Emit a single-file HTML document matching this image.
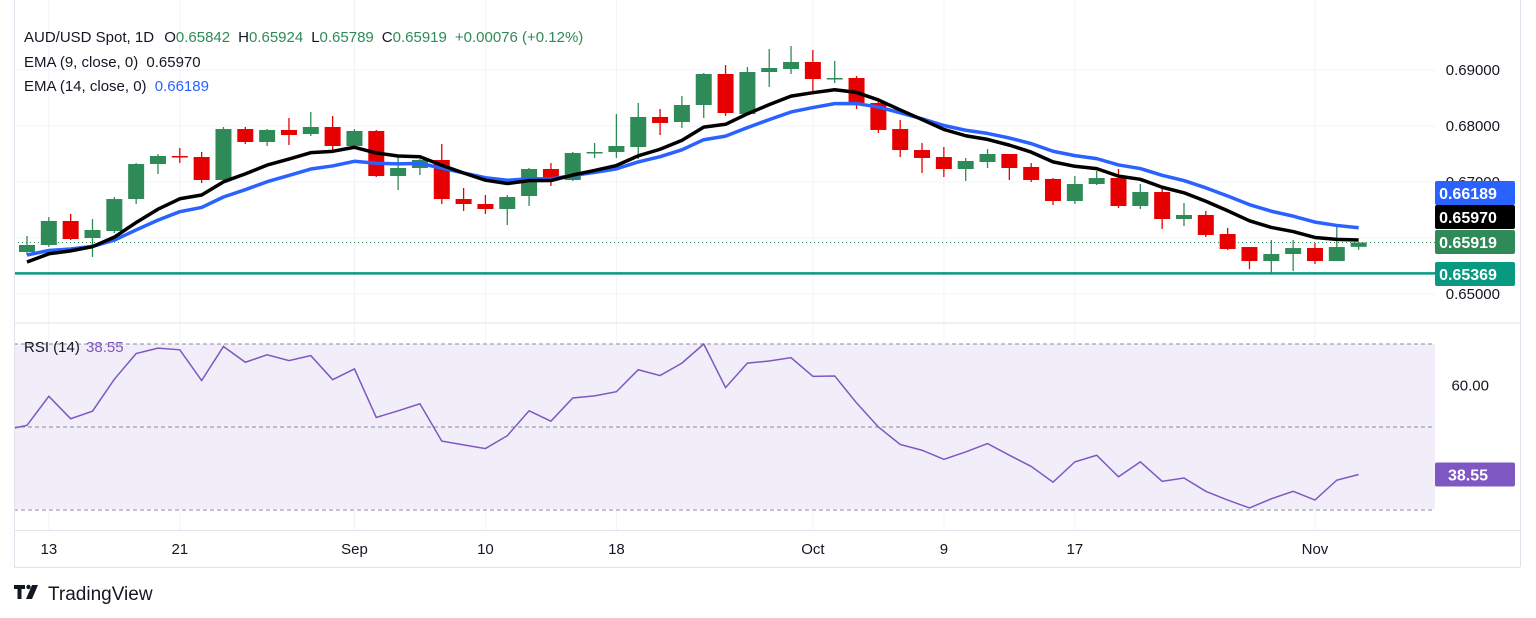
<!DOCTYPE html>
<html><head><meta charset="utf-8"><style>
body{margin:0;background:#fff;font-family:"Liberation Sans",sans-serif}
svg{display:block}
text{font-family:"Liberation Sans",sans-serif}
</style></head><body>
<svg id="chart" width="1536" height="618" viewBox="0 0 1536 618" xmlns="http://www.w3.org/2000/svg">
<defs><clipPath id="pc"><rect x="14" y="0" width="1421" height="322"/></clipPath><clipPath id="rc"><rect x="14" y="324" width="1421" height="206"/></clipPath></defs>
<g id="grid"></g>
<rect id="band" x="14" y="344" width="1421" height="165" fill="#f2eef9"/>
<g id="rsiguides"></g>
<g id="price" clip-path="url(#pc)"></g>
<g id="rsi" clip-path="url(#rc)"></g>
<g id="axes"></g>
<line x1="14" y1="323" x2="1520" y2="323" stroke="#e0e3eb" stroke-width="1"/>
<line x1="14.5" y1="0" x2="14.5" y2="567" stroke="#e0e3eb"/>
<line x1="14" y1="567.5" x2="1520" y2="567.5" stroke="#e0e3eb"/>
<line x1="1520.5" y1="0" x2="1520.5" y2="567" stroke="#e0e3eb"/>
<line x1="14" y1="530.5" x2="1520" y2="530.5" stroke="#e0e3eb"/>
<g font-size="15">
<text x="24" y="42" fill="#131722">AUD/USD Spot, 1D <tspan dx="6">O</tspan><tspan fill="#2e8b57">0.65842</tspan><tspan dx="8">H</tspan><tspan fill="#2e8b57">0.65924</tspan><tspan dx="8">L</tspan><tspan fill="#2e8b57">0.65789</tspan><tspan dx="8">C</tspan><tspan fill="#2e8b57">0.65919</tspan><tspan dx="8" fill="#2e8b57">+0.00076 (+0.12%)</tspan></text>
<text x="24" y="67" fill="#131722">EMA (9, close, 0) <tspan dx="4">0.65970</tspan></text>
<text x="24" y="91" fill="#131722">EMA (14, close, 0) <tspan dx="4" fill="#2962ff">0.66189</tspan></text>
<text x="24" y="352" fill="#131722">RSI (14) <tspan dx="2" fill="#7e57c2">38.55</tspan></text>
</g>
<g>
<path d="M14 585h11v4h-3.5v10h-4v-10h-3.5z" fill="#131722"/><circle cx="28.5" cy="587" r="2.2" fill="#131722"/><path d="M32 585h6l-6 14h-6z" fill="#131722"/>
<text x="48" y="600" font-size="19" fill="#131722">TradingView</text>
</g>
</svg>
<script>
const dates=["13","21","Sep","10","18","Oct","9","17","Nov"];
const dateIdx=[1,7,15,21,27,36,42,48,59];
const priceTicks=[0.69,0.68,0.67,0.66,0.65];
const rsiTicks=[60];
const opens=[.65750,.65875,.66304,.66000,.66125,.66696,.67321,.67464,.67446,.67036,.67946,.67714,.67929,.67857,.67982,.67643,.67911,.67107,.67250,.67393,.66696,.66607,.66518,.66750,.67232,.67036,.67518,.67536,.67625,.68161,.68071,.68375,.68929,.68214,.68964,.69018,.69143,.68839,.68857,.68411,.67946,.67571,.67446,.67232,.67357,.67500,.67268,.67054,.66661,.66964,.67071,.66571,.66821,.66339,.66411,.66071,.65839,.65589,.65714,.65821,.65589,.65842];
const highs=[.66036,.66375,.66429,.66339,.66732,.67339,.67500,.67607,.67536,.67982,.67982,.67946,.68143,.68250,.68179,.67946,.67929,.67482,.67411,.67679,.66893,.66768,.66768,.67250,.67339,.67536,.67696,.68214,.68411,.68304,.68536,.68946,.69089,.69054,.69375,.69429,.69357,.69161,.68893,.68500,.68107,.67696,.67625,.67429,.67589,.67500,.67339,.67071,.67107,.67196,.67232,.66964,.66911,.66625,.66482,.66179,.65839,.65964,.65964,.65911,.66196,.65924];
const lows=[.65696,.65839,.65964,.65661,.66089,.66607,.67143,.67339,.66982,.67036,.67679,.67643,.67661,.67821,.67536,.67589,.67089,.66857,.67125,.66607,.66482,.66429,.66232,.66571,.66929,.67018,.67429,.67429,.67411,.67839,.67964,.68143,.68179,.68196,.68696,.68929,.68589,.68768,.68304,.67875,.67446,.67161,.67089,.67018,.67250,.67036,.67000,.66589,.66607,.66946,.66536,.66518,.66161,.66214,.66018,.65786,.65446,.65375,.65411,.65536,.65589,.65789];
const closes=[.65875,.66304,.65982,.66143,.66696,.67321,.67464,.67446,.67036,.67946,.67714,.67929,.67839,.67982,.67643,.67911,.67107,.67250,.67393,.66696,.66607,.66518,.66732,.67232,.67036,.67518,.67536,.67643,.68161,.68054,.68375,.68929,.68232,.68964,.69036,.69143,.68839,.68857,.68411,.67929,.67571,.67429,.67232,.67375,.67500,.67250,.67036,.66661,.66964,.67071,.66571,.66821,.66339,.66411,.66054,.65804,.65589,.65714,.65821,.65589,.65839,.65919];
const ema9Seed=0.65571, ema14Seed=0.65696;
const ema9Last=0.65970, ema14Last=0.66189;
const rsiPrev=49.3;
const rsiVals=[50.4,57.4,52.0,53.8,61.5,67.7,69.0,68.6,61.2,69.4,65.6,67.4,66.0,67.2,61.4,64.0,52.3,53.9,55.6,46.6,45.7,44.8,47.9,53.9,51.4,57.0,57.5,58.5,63.8,62.4,65.4,70.0,59.5,65.4,65.9,66.7,62.2,62.3,55.8,50.0,45.8,44.4,42.2,44.0,46.0,43.2,40.5,36.7,41.6,43.2,38.0,41.6,36.9,37.7,34.5,32.4,30.5,32.7,34.5,32.4,37.2,38.55];
const supportLevel=0.65369;

const NS="http://www.w3.org/2000/svg";
const X=i=>27+i*21.83;
const Y=p=>70+(0.69-p)*5600;
const R=v=>427-(v-50)*4.15;
function mk(tag,attrs,parent){const e=document.createElementNS(NS,tag);for(const k in attrs)e.setAttribute(k,attrs[k]);parent.appendChild(e);return e;}
const grid=document.getElementById('grid'),price=document.getElementById('price'),rsi=document.getElementById('rsi'),axes=document.getElementById('axes'),guides=document.getElementById('rsiguides');
dateIdx.forEach((di,k)=>{
 const g=mk('line',{x1:X(di),x2:X(di),y1:0,y2:530,stroke:'#f0f3fa'},grid);
 
 
 const t=mk('text',{x:X(di),y:554,'text-anchor':'middle','font-size':15,fill:'#131722'},axes);
 t.textContent=dates[k];
 
 
});
priceTicks.forEach(p=>{
 const g=mk('line',{x1:14,x2:1435,y1:Y(p),y2:Y(p),stroke:'#f0f3fa'},grid);
 
 
 const t=mk('text',{x:1500,y:Y(p)+5,'text-anchor':'end','font-size':15,fill:'#131722'},axes);
 t.textContent=p.toFixed(5);
 
 
});
[60,40].forEach(v=>{
 const g=mk('line',{x1:14,x2:1435,y1:R(v),y2:R(v),stroke:'#e6e1f0'},grid);
 
 
});
rsiTicks.forEach(v=>{
 const t=mk('text',{x:1489,y:R(v)+5,'text-anchor':'end','font-size':15,fill:'#131722'},axes);
 t.textContent=v.toFixed(2);
 
 
});
[70,50,30].forEach(v=>{
 const l=mk('line',{x1:14,x2:1435,y1:R(v),y2:R(v),stroke:'#8a8a96','stroke-dasharray':'4 3'},guides);
 
 
});
const sl=mk('line',{x1:14,x2:1435,y1:Y(supportLevel),y2:Y(supportLevel),stroke:'#089981','stroke-width':2.5},price);


const lp=mk('line',{x1:14,x2:1435,y1:Y(closes[closes.length-1]),y2:Y(closes[closes.length-1]),stroke:'#2e8b57','stroke-dasharray':'1 3'},price);


for(let i=0;i<closes.length;i++){
 const up=closes[i]>=opens[i],col=up?'#2e8b57':'#e60000';
 const w=mk('line',{x1:X(i),x2:X(i),y1:Y(highs[i]),y2:Y(lows[i]),stroke:col,'stroke-width':1.3},price);
 
 
 const top=Y(Math.max(opens[i],closes[i])),bot=Y(Math.min(opens[i],closes[i]));
 const b=mk('rect',{x:X(i)-8,y:top,width:16,height:Math.max(1.5,bot-top),fill:col},price);
 
 
}
function ema(seed,n){const k=2/(n+1);const out=[seed];for(let i=1;i<closes.length;i++)out.push(out[i-1]+k*(closes[i]-out[i-1]));return out;}
const e14=ema(ema14Seed,14),e9=ema(ema9Seed,9);
const p14=mk('polyline',{points:e14.map((v,i)=>X(i)+','+Y(v)).join(' '),fill:'none',stroke:'#2962ff','stroke-width':3.5,'stroke-linejoin':'round'},price);


const p9=mk('polyline',{points:e9.map((v,i)=>X(i)+','+Y(v)).join(' '),fill:'none',stroke:'#000','stroke-width':3.5,'stroke-linejoin':'round'},price);


const rp=mk('polyline',{points:(X(-1)+','+R(rsiPrev)+' ')+rsiVals.map((v,i)=>X(i)+','+R(v)).join(' '),fill:'none',stroke:'#7e57c2','stroke-width':1.5},rsi);


function badge(y,bg,txt,name){
 const r=mk('rect',{x:1435,y:y-12,width:80,height:24,rx:2,fill:bg},axes);
 
 
 const t=mk('text',{x:1468,y:y+6,'text-anchor':'middle','font-size':16,'font-weight':'bold',fill:'#fff'},axes);
 t.textContent=txt;
 
 
}
badge(193,'#2962ff',ema14Last.toFixed(5),'ema14-badge');
badge(217,'#000000',ema9Last.toFixed(5),'ema9-badge');
badge(242,'#2e8b57',closes[closes.length-1].toFixed(5),'last-price-badge');
badge(274,'#089981',supportLevel.toFixed(5),'support-badge');
badge(R(rsiVals[rsiVals.length-1]),'#7e57c2',rsiVals[rsiVals.length-1].toFixed(2),'rsi-badge');
</script>
</body></html>
